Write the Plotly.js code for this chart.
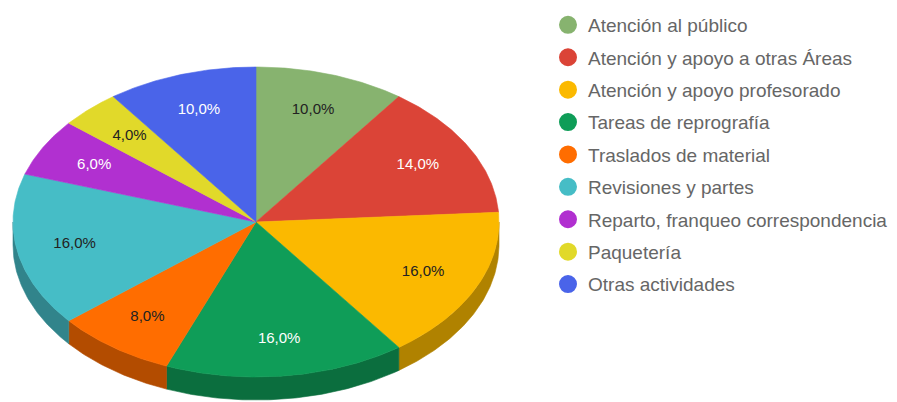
<!DOCTYPE html>
<html><head><meta charset="utf-8">
<script src="https://cdn.plot.ly/plotly-3.0.1.min.js"></script>
<style>html,body{margin:0;padding:0;background:#fff}#chart{width:897px;height:402px}</style>
</head><body><div id="chart"></div>
<script>
const categories = [
  "Atención al público",
  "Atención y apoyo a otras Áreas",
  "Atención y apoyo profesorado",
  "Tareas de reprografía",
  "Traslados de material",
  "Revisiones y partes",
  "Reparto, franqueo correspondencia",
  "Paquetería",
  "Otras actividades"
];
const shares = [10, 14, 16, 16, 8, 16, 6, 4, 10];
const sliceColors = ["#87b36f", "#db4437", "#fbb900", "#0f9d58", "#ff6d00", "#46bdc6", "#b130d0", "#e1d92a", "#4a64e9"];
const labelColors = ["#222222", "#ffffff", "#222222", "#ffffff", "#222222", "#222222", "#ffffff", "#222222", "#ffffff"];

// pie geometry (pixel-based data coordinates)
const CX = 256, CY = 222, RX = 243, RY = 155, DEPTH = 23, LABEL_R = 0.76;

function darken(hex, f) {
  const n = parseInt(hex.slice(1), 16);
  const r = Math.round(((n >> 16) & 255) * f), g = Math.round(((n >> 8) & 255) * f), b = Math.round((n & 255) * f);
  return "rgb(" + r + "," + g + "," + b + ")";
}
function pt(a, dy) { return [CX + RX * Math.sin(a), CY - RY * Math.cos(a) + (dy || 0)]; }
function arc(a1, a2, dy) {
  const n = Math.max(4, Math.ceil((a2 - a1) / 0.01));
  const xs = [], ys = [];
  for (let k = 0; k <= n; k++) { const p = pt(a1 + (a2 - a1) * k / n, dy); xs.push(p[0]); ys.push(p[1]); }
  return [xs, ys];
}

const total = shares.reduce((a, b) => a + b, 0);
const sideTraces = [], topTraces = [], legendTraces = [];
const lab = { x: [], y: [], text: [], color: [] };
let acc = 0;
shares.forEach((v, i) => {
  const a1 = acc / total * 2 * Math.PI, a2 = (acc + v) / total * 2 * Math.PI;
  acc += v;
  const [ax, ay] = arc(a1, a2, 0);
  topTraces.push({
    type: "scatter", mode: "lines", x: [CX].concat(ax, [CX]), y: [CY].concat(ay, [CY]),
    fill: "toself", fillcolor: sliceColors[i], line: { color: sliceColors[i], width: 0.6 },
    showlegend: false, hoverinfo: "skip"
  });
  const s1 = Math.max(a1, Math.PI / 2), s2 = Math.min(a2, 1.5 * Math.PI);
  if (s2 > s1) {
    const [fx, fy] = arc(s1, s2, 0);
    const [bx, by] = arc(s1, s2, DEPTH);
    const sc = darken(sliceColors[i], 0.7);
    sideTraces.push({
      type: "scatter", mode: "lines", x: fx.concat(bx.slice().reverse(), [fx[0]]), y: fy.concat(by.slice().reverse(), [fy[0]]),
      fill: "toself", fillcolor: sc, line: { color: sc, width: 0.6 }, showlegend: false, hoverinfo: "skip"
    });
  }
  const am = (a1 + a2) / 2;
  lab.x.push(CX + RX * LABEL_R * Math.sin(am));
  lab.y.push(CY - RY * LABEL_R * Math.cos(am));
  lab.text.push((v / total * 100).toFixed(1).replace(".", ",") + "%");
  lab.color.push(labelColors[i]);
  legendTraces.push({
    type: "scatter", mode: "markers", x: [null], y: [null], name: categories[i],
    legendgroup: "g" + i,
    marker: { color: sliceColors[i], size: 16, symbol: "circle", line: { color: sliceColors[i], width: 2 } },
    hoverinfo: "skip"
  });
});

const labelTrace = {
  type: "scatter", mode: "text", x: lab.x, y: lab.y, text: lab.text,
  textposition: "middle center",
  textfont: { family: "Liberation Sans, Arial, sans-serif", size: 15, color: lab.color },
  showlegend: false, hoverinfo: "skip"
};

const layout = {
  width: 897, height: 402,
  margin: { l: 0, r: 0, t: 0, b: 0 },
  paper_bgcolor: "#ffffff", plot_bgcolor: "#ffffff",
  xaxis: { range: [0, 897], visible: false, fixedrange: true },
  yaxis: { range: [402, 0], visible: false, fixedrange: true },
  showlegend: true,
  legend: {
    x: 548 / 897, xanchor: "left", y: 1 - 6 / 402, yanchor: "top",
    font: { family: "Liberation Sans, Arial, sans-serif", size: 19, color: "#666666" },
    traceorder: "grouped", tracegroupgap: 4.7,
    bgcolor: "rgba(0,0,0,0)", borderwidth: 0
  }
};

Plotly.newPlot("chart", sideTraces.concat(topTraces, [labelTrace], legendTraces), layout, { staticPlot: true, displayModeBar: false });
</script>
</body></html>
